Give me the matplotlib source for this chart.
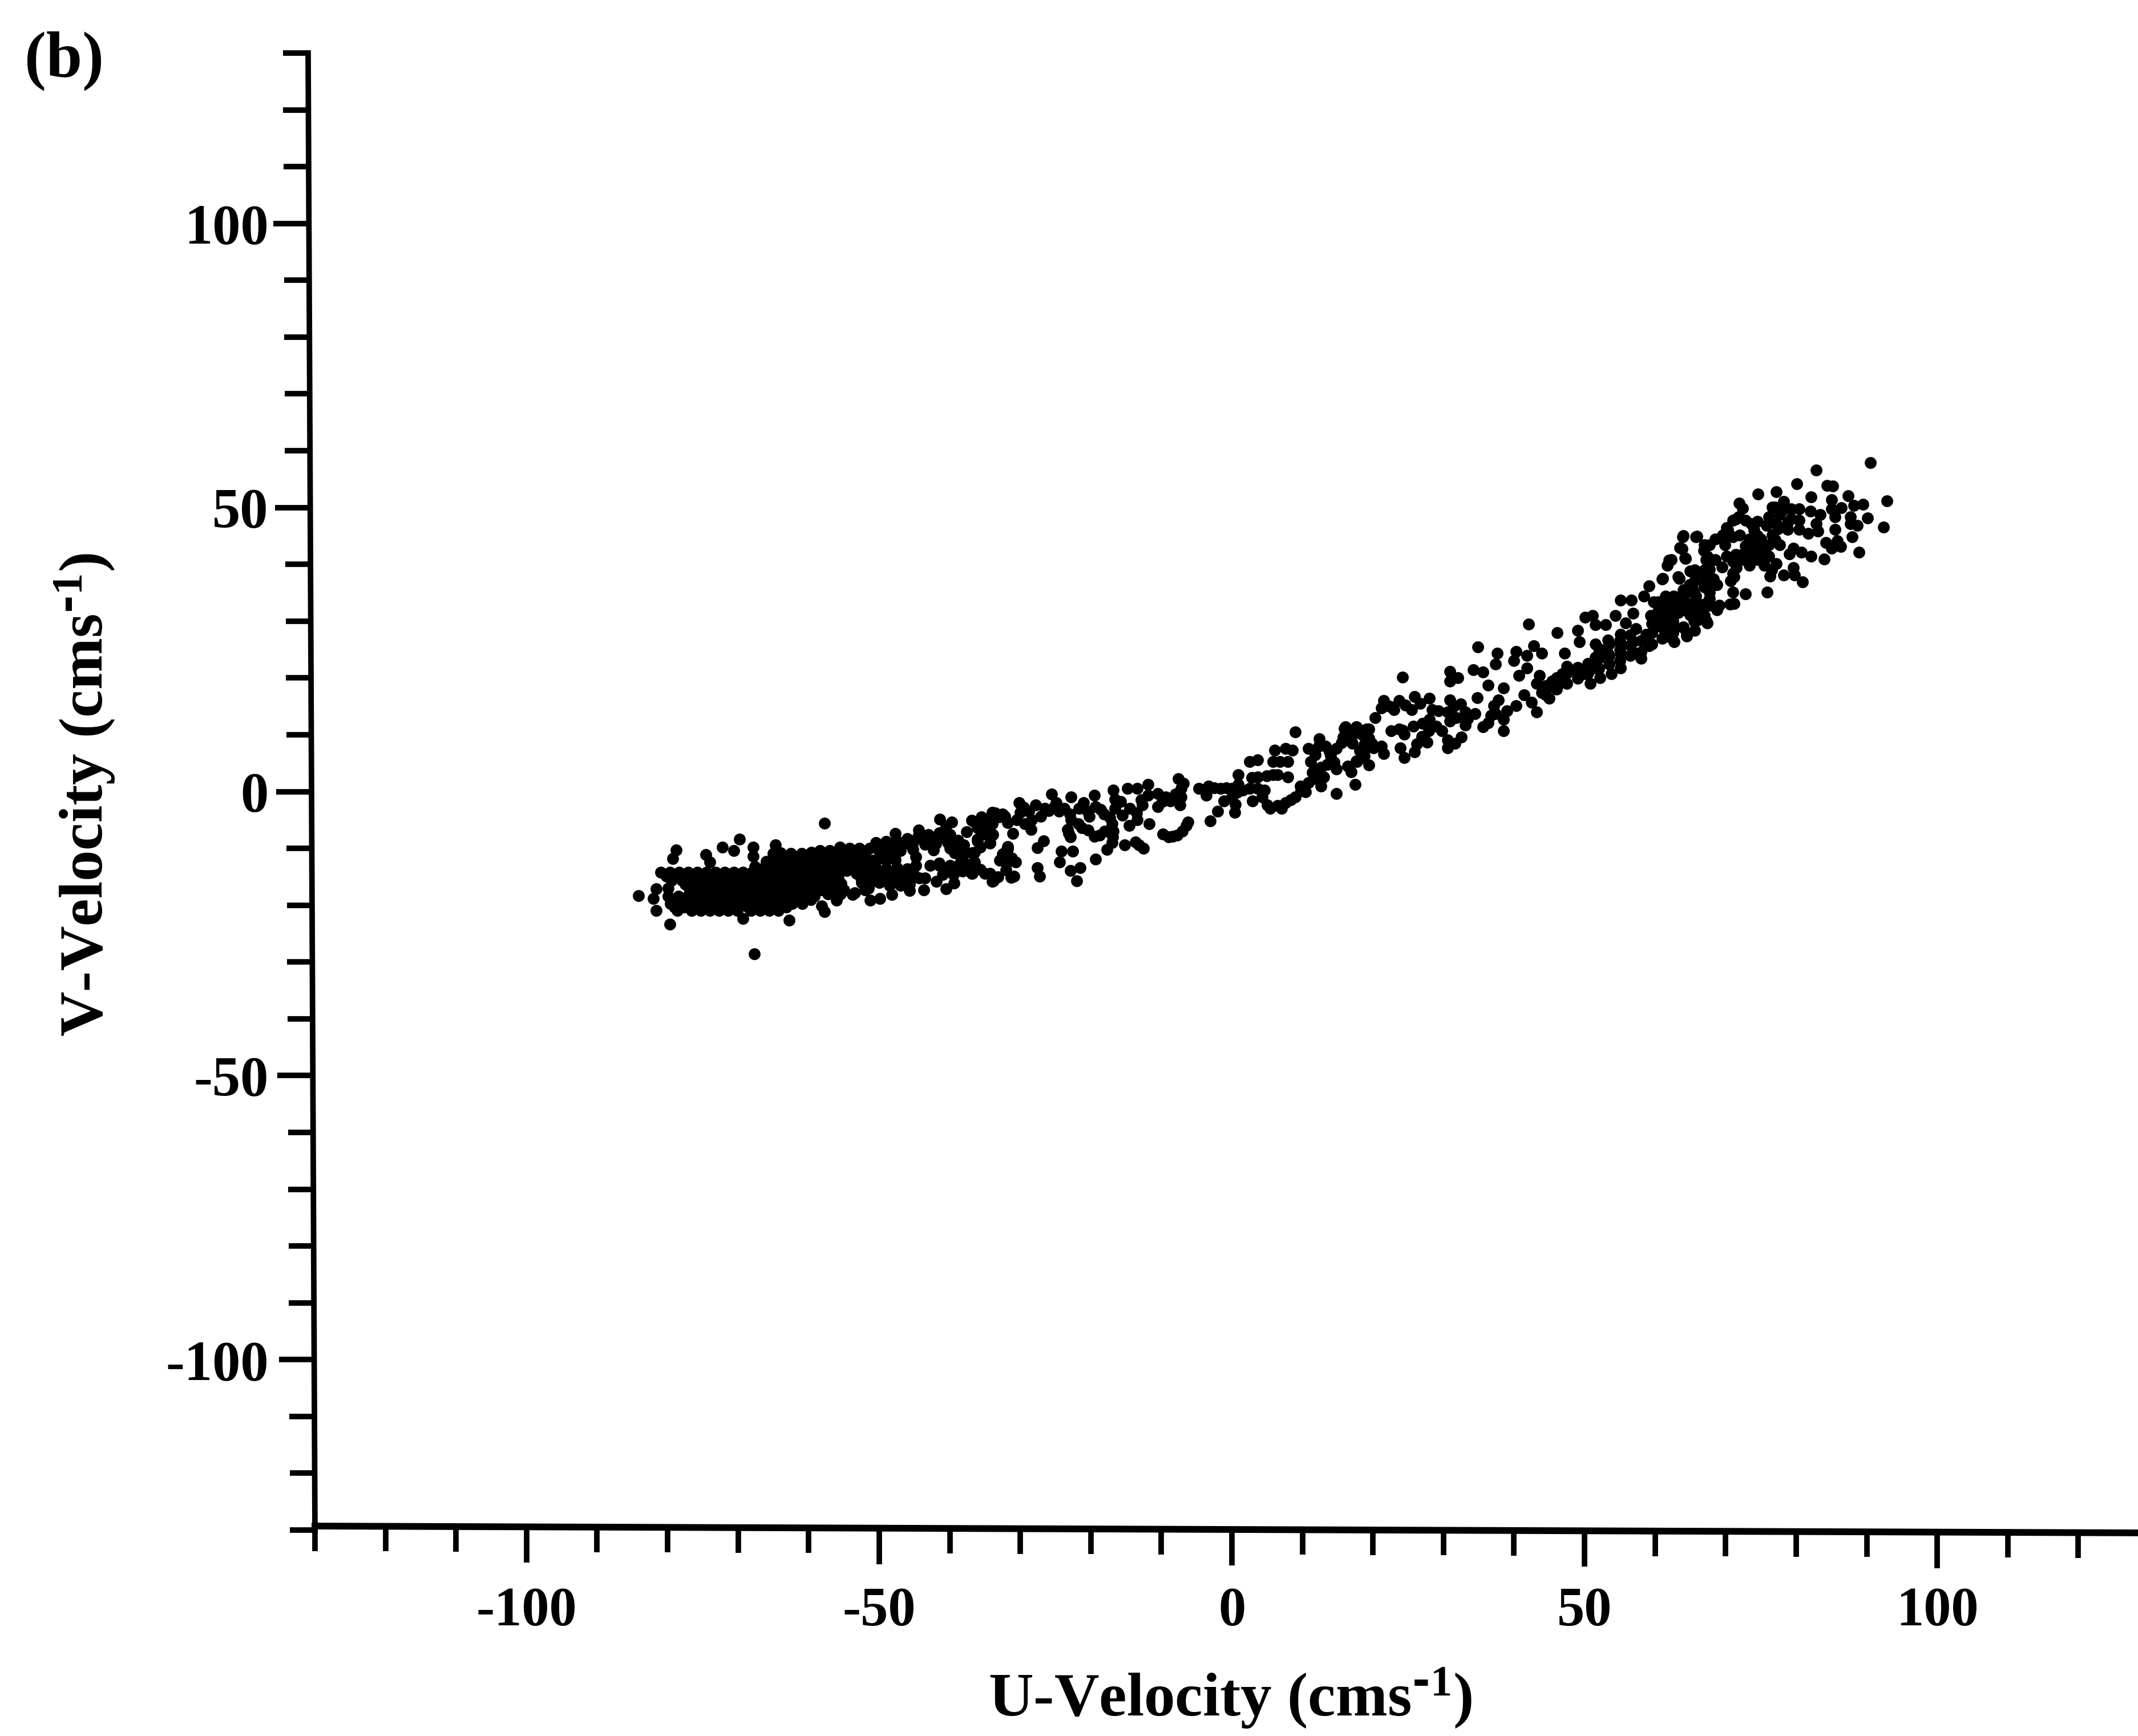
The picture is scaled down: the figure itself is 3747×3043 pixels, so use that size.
#!/usr/bin/env python
# U-V velocity scatter, panel (b)

import numpy as np
import matplotlib
matplotlib.use('Agg')
import matplotlib.pyplot as plt
from matplotlib.transforms import Affine2D
from matplotlib.ticker import FixedLocator

plt.rcParams['font.family'] = ['Liberation Serif', 'DejaVu Serif']
plt.rcParams['font.weight'] = 'bold'
plt.rcParams['mathtext.default'] = 'regular'

W, H = 3748, 3043
DPI = 100

x_major = [-100, -50, 0, 50, 100]
x_labels = ['-100', '-50', '0', '50', '100']
y_major = [-100, -50, 0, 50, 100]
y_labels = ['-100', '-50', '0', '50', '100']
minor_ticks = [-130, -120, -110, -90, -80, -70, -60, -40, -30, -20, -10,
               10, 20, 30, 40, 60, 70, 80, 90, 110, 120, 130]

# solid part of the cloud at the left, one list of u per v level
band_v = [-14.2, -15.6, -17.0, -18.4, -19.7, -20.9, -14.9, -16.3, -17.7, -19.0, -20.3]
band_u = [
    [-81.0, -79.7, -78.4, -77.1, -75.8, -74.5, -73.2, -71.9, -70.6, -69.3, -68.0, -66.7, -65.4, -64.0, -62.7, -61.3, -60.0, -58.7],
    [-79.4, -78.0, -76.9, -75.6, -74.3, -73.0, -71.7, -70.4, -69.1, -67.8, -66.5, -65.2, -63.9, -62.6, -61.3, -60.0, -58.7],
    [-79.9, -76.9, -75.6, -74.3, -73.0, -71.7, -70.4, -69.1, -67.8, -66.5, -65.2, -63.9, -62.6, -61.3, -60.0, -58.7],
    [-79.9, -78.5, -77.2, -75.9, -74.6, -73.3, -72.0, -70.7, -69.4, -68.1, -66.8, -65.5, -64.2, -62.9, -61.6, -60.3, -59.2],
    [-79.6, -78.3, -77.0, -75.7, -74.4, -73.1, -71.8, -70.5, -69.2, -67.9, -66.6, -65.3, -64.0, -62.4, -60.9],
    [-78.6, -76.6, -75.3, -74.0, -72.7, -71.4, -70.1, -68.2, -66.9, -65.6, -64.3],
    [-80.2, -78.9, -77.6, -76.3, -75.0, -73.7, -72.4, -71.1, -69.8, -68.5, -67.2, -65.9, -64.6, -63.3, -62.0, -60.7, -59.4, -58.0],
    [-77.5, -76.2, -74.9, -73.6, -72.3, -71.0, -69.7, -68.4, -67.1, -65.8, -64.5, -63.2, -61.9, -60.6, -59.3, -58.0],
    [-76.2, -74.9, -73.6, -72.3, -71.0, -69.7, -68.4, -67.1, -65.8, -64.5, -63.2, -61.9, -60.6, -59.3],
    [-79.2, -77.8, -76.5, -75.2, -73.9, -72.6, -71.3, -70.0, -68.7, -67.4, -66.1, -64.8, -63.5, -62.2, -60.9, -59.7],
    [-79.0, -77.7, -76.4, -75.1, -73.8, -72.5, -71.2, -69.9, -68.6, -67.3, -66.0, -64.7, -63.2],
]

# top of the solid part and the loose band up to u = -31
left_band = [
    (-65.0, -10.9), (-64.0, -10.8), (-62.5, -10.9), (-61.0, -10.9), (-59.6, -10.7), (-58.4, -10.4),
    (-66.0, -12.3), (-64.6, -12.3), (-63.2, -12.3), (-61.8, -12.3), (-60.4, -12.3), (-59.0, -12.3),
    (-67.6, -13.2), (-66.2, -13.2), (-64.8, -13.6), (-63.4, -13.8), (-62.0, -13.8), (-60.6, -13.8), (-59.2, -13.8),
    (-57.0, -10.4), (-55.6, -9.8), (-54.2, -10.0), (-52.8, -10.0), (-51.4, -10.0),
    (-57.8, -11.4), (-56.4, -11.4), (-55.0, -11.4), (-53.6, -11.4), (-52.2, -11.4),
    (-57.5, -12.9), (-56.0, -12.9), (-54.6, -12.9), (-53.2, -12.9), (-51.8, -12.9),
    (-57.5, -14.4), (-56.0, -14.4), (-54.6, -13.9), (-53.2, -14.4), (-51.8, -14.4),
    (-58.0, -16.0), (-56.5, -16.0), (-55.4, -16.2), (-52.5, -16.0), (-51.2, -16.0),
    (-58.3, -17.3), (-56.8, -17.3), (-55.0, -17.3), (-53.5, -17.8), (-52.0, -17.3),
    (-50.5, -9.0), (-49.0, -8.8), (-47.6, -8.6), (-46.0, -8.3), (-44.5, -7.9), (-43.0, -7.6), (-41.5, -7.3), (-40.0, -7.6),
    (-50.0, -10.5), (-48.5, -10.3), (-47.0, -10.4), (-45.2, -10.2), (-43.5, -9.3), (-42.0, -9.2), (-40.3, -9.0), (-38.8, -8.6),
    (-50.3, -12.0), (-49.0, -12.0), (-47.7, -12.0), (-44.8, -11.5), (-39.3, -10.8), (-38.0, -11.0),
    (-50.5, -13.5), (-49.0, -13.5), (-47.5, -13.4), (-46.0, -13.6), (-44.8, -13.0), (-42.8, -13.0), (-41.5, -13.0), (-40.0, -13.0), (-38.5, -12.5),
    (-50.5, -15.0), (-49.0, -15.0), (-47.0, -15.0), (-45.0, -15.0), (-43.5, -15.2), (-41.0, -14.6), (-39.5, -14.6), (-38.2, -14.0),
    (-51.5, -17.0), (-48.5, -16.5), (-47.0, -16.5), (-45.7, -16.3),
    (-51.3, -19.1), (-49.9, -18.8), (-48.2, -18.1), (-45.7, -17.4), (-40.5, -17.1), (-41.9, -15.8), (-39.4, -16.1),
    (-34.0, -15.8), (-34.3, -14.4), (-36.9, -14.4), (-32.0, -13.8), (-31.3, -15.1), (-32.9, -12.1), (-31.8, -10.1),
    (-34.3, -9.1), (-36.1, -8.4), (-37.6, -7.1), (-34.3, -6.1), (-38.0, -9.4), (-36.9, -10.8),
    (-47.7, -7.4), (-44.4, -6.8), (-41.4, -4.9), (-40.5, -6.1), (-39.7, -5.4), (-36.9, -5.1), (-33.6, -3.8), (-32.2, -4.4), (-34.7, -4.8),
]

# more dots inside the same stretch, where the reference closes up
left_fill = [
    (-64.3, -11.6), (-62.9, -11.6), (-61.5, -11.6), (-60.1, -11.6), (-58.7, -11.6), (-65.3, -13.0), (-63.9, -13.0), (-62.5, -13.0),
    (-61.1, -13.0), (-59.7, -13.0), (-58.3, -13.0), (-56.7, -10.7), (-55.0, -10.6), (-53.5, -10.7), (-52.0, -10.7), (-57.0, -12.1),
    (-55.5, -12.1), (-54.0, -12.1), (-52.5, -12.1), (-51.0, -12.1), (-56.8, -13.6), (-55.3, -13.6), (-53.9, -13.6), (-52.5, -13.6),
    (-51.0, -13.6), (-57.2, -15.2), (-55.8, -15.2), (-52.6, -15.2), (-51.4, -15.2), (-57.5, -16.7), (-56.0, -16.7), (-52.0, -16.7),
    (-57.3, -18.0), (-55.5, -18.0), (-49.8, -9.8), (-48.2, -9.5), (-46.7, -9.4), (-45.2, -9.0), (-43.7, -8.5), (-42.2, -8.2),
    (-40.7, -8.2), (-49.7, -11.2), (-48.2, -11.1), (-42.3, -10.3), (-40.0, -10.0), (-38.6, -9.8), (-41.5, -12.6), (-49.8, -14.2),
    (-48.2, -14.2), (-46.7, -14.2), (-45.2, -14.2), (-40.7, -13.8), (-39.2, -13.8), (-37.5, -12.8), (-38.0, -13.3), (-52.0, -15.2),
    (-50.0, -16.0), (-48.0, -15.7), (-46.2, -15.7), (-44.3, -15.2),
]

# loose dots round the solid part
left_strays = [
    (-84.1, -18.3), (-81.6, -17.1), (-82.0, -18.8), (-81.6, -20.9), (-79.7, -23.3), (-78.8, -10.3), (-79.3, -11.8),
    (-74.6, -11.1), (-74.0, -12.4), (-72.2, -9.8), (-69.8, -8.4), (-70.6, -10.4), (-67.9, -9.8), (-67.9, -11.4),
    (-64.7, -9.4), (-64.3, -11.1), (-57.8, -5.6), (-67.7, -28.6), (-69.3, -22.3), (-62.8, -22.6), (-57.8, -21.1),
    (-58.2, -20.1), (-56.1, -19.1), (-43.7, -17.3), (-53.8, -18.1),
]

# middle stretch, u from -37 to 19
mid_upper = [
    (-36.5, -5.4), (-35.4, -5.7), (-34.0, -3.7), (-32.5, -4.0), (-34.0, -5.7), (-36.1, -6.4), (-31.1, -7.4), (-30.2, -2.0),
    (-30.0, -3.7), (-29.4, -5.7), (-27.8, -2.4), (-27.1, -4.4), (-28.5, -6.7), (-25.6, -0.5), (-24.9, -2.0), (-23.8, -3.0),
    (-26.0, -3.4), (-22.8, -1.0), (-21.7, -3.0), (-20.2, -4.4), (-19.5, -0.7), (-19.3, -2.7), (-18.1, -4.0), (-16.8, 0.3),
    (-16.6, -1.4), (-16.6, -3.0), (-14.8, 0.6), (-13.4, 0.6), (-11.9, 1.3), (-14.5, -3.0), (-12.7, -2.4), (-11.9, -0.7),
    (-10.5, -0.4), (-9.4, -1.0), (-10.5, -2.7), (-7.6, 2.3), (-7.2, 0.6), (-7.2, -1.0), (-7.4, -2.4), (-8.7, -1.7),
    (-4.7, 0.6), (-3.3, 1.0), (-3.6, -0.7), (-1.6, 0.6), (0.0, 0.6), (0.9, 3.0), (0.9, 1.3), (0.0, -1.0), (-1.1, -1.7),
    (0.4, -3.7), (-2.0, -3.5), (2.5, 0.6), (3.6, 2.6), (3.6, 0.6), (2.9, -1.7), (4.3, -1.0), (5.0, -2.4), (5.8, 3.0),
    (5.4, -3.0), (7.9, 2.6), (7.6, -2.0), (9.0, -1.0), (9.7, 1.0), (10.8, 1.6), (10.4, 0.0), (11.9, 2.3), (12.6, 1.0),
    (12.6, 4.3), (13.0, 2.6), (11.2, 5.3), (12.4, 9.3), (13.3, 8.0), (14.8, 7.6), (15.5, 8.6), (14.0, 6.3), (14.8, 4.0),
    (16.9, 3.5), (17.5, 1.3), (14.8, -0.4), (9.0, 10.5), (10.8, 7.6), (15.9, 11.1), (17.7, 11.3), (19.1, 11.0), (17.1, 8.5),
    (18.8, 8.3), (18.8, 6.3), (17.7, 5.3), (6.1, 7.3), (7.6, 7.6), (8.6, 7.3), (6.8, 5.3), (5.8, 5.3), (7.9, 5.3), (2.5, 5.3), (3.6, 5.6),
]
mid_lower = [
    (-36.1, -8.7), (-34.3, -9.0), (-36.5, -10.7), (-31.8, -9.7), (-32.5, -11.0), (-31.8, -12.4), (-30.7, -12.4), (-30.9, -14.9),
    (-35.0, -14.4), (-33.8, -15.7), (-36.8, -14.4), (-36.5, -12.4), (-26.7, -8.7), (-27.6, -9.9), (-27.6, -13.4), (-27.3, -14.9),
    (-24.2, -10.5), (-24.4, -12.4), (-22.6, -10.5), (-22.9, -13.9), (-21.5, -13.4), (-22.0, -15.7), (-19.3, -11.9), (-22.9, -8.0),
    (-23.3, -6.7), (-19.5, -7.9), (-18.8, -7.7), (-21.3, -6.4), (-22.8, -5.0), (-17.0, -9.0), (-17.7, -10.2), (-15.2, -9.4),
    (-13.7, -8.9), (-12.5, -10.0), (-16.8, -7.0), (-17.0, -5.7), (-14.6, -6.0), (-11.7, -5.7), (-13.4, -5.0), (-9.8, -7.5),
    (-9.0, -8.0), (-7.8, -7.7), (-6.5, -6.0), (-6.2, -5.4), (-3.1, -5.2),
]

# dots joining the blobs of the middle stretch and the start of the right one
mid_fill = [
    (-35.5, -4.5), (-33.0, -4.5), (-31.8, -5.5), (-30.5, -5.0), (-29.5, -2.8), (-28.8, -3.5), (-28.4, -5.0), (-26.5, -3.0),
    (-25.2, -2.8), (-24.5, -3.5), (-23.0, -4.0), (-21.0, -2.0), (-20.5, -3.5), (-18.6, -3.2), (-17.3, -4.6), (-15.8, -1.8),
    (-15.5, -4.2), (-13.5, -3.8), (-12.9, -1.5), (-9.9, -1.8), (-8.0, -0.5), (-6.9, 1.5), (-3.9, 0.4), (-2.5, 0.7), (-0.8, 0.7),
    (0.7, -0.2), (1.5, 0.3), (0.5, -2.3), (2.8, 2.5), (4.9, 2.8), (4.6, 0.3), (6.5, 3.0), (7.0, -3.0), (6.5, -2.5), (8.3, -1.5),
    (9.8, 0.2), (11.4, 3.4), (12.0, 3.7), (13.5, 4.8), (11.8, 6.5), (12.3, 8.0), (13.8, 7.0), (14.5, 5.2), (15.8, 9.6), (16.4, 4.5),
    (18.1, 7.2), (18.0, 10.3), (18.8, 9.8), (-35.2, -7.5), (-33.9, -7.6), (-35.7, -9.8), (-32.0, -10.5), (-31.2, -11.7),
    (-33.2, -15.0), (-35.7, -13.7), (-21.8, -5.7), (-20.4, -6.8), (-23.1, -7.4), (-18.0, -7.0), (-16.9, -8.0), (-13.2, -9.4),
    (-8.4, -7.9), (-7.0, -7.0), (22.3, 15.0), (24.6, 15.2), (26.7, 15.5), (29.3, 14.2), (27.0, 12.0), (29.0, 11.5), (31.5, 15.0),
    (31.8, 13.0), (24.2, 10.8), (33.4, 12.8), (31.6, 8.5), (26.9, 9.7), (16.9, 10.2), (18.5, 10.0), (19.8, 8.5), (18.7, 7.0), (39.0, 14.2),
]

# right stretch, u from 16 to 72
right_band = [
    (24.2, 20.1), (34.9, 25.5), (42.1, 29.5), (46.1, 28.0), (30.9, 21.1), (30.9, 19.4), (32.0, 20.0), (34.2, 21.4), (35.6, 21.0),
    (37.6, 24.4), (37.4, 22.4), (36.3, 18.7), (38.5, 18.2), (34.8, 16.5), (21.5, 16.0), (21.2, 14.7), (23.7, 16.0), (23.0, 14.4),
    (25.9, 16.7), (25.5, 14.4), (28.0, 16.4), (28.4, 14.4), (20.3, 13.0), (30.9, 16.1), (32.4, 15.4), (30.6, 14.0), (33.1, 14.0),
    (34.5, 13.7), (33.1, 11.7), (28.0, 12.7), (30.9, 12.4), (29.8, 10.7), (27.9, 10.7), (23.7, 11.0), (25.7, 11.5), (22.6, 10.7),
    (24.4, 10.1), (26.2, 8.4), (27.7, 8.7), (25.9, 7.0), (30.6, 9.1), (30.6, 7.7), (32.5, 9.6), (23.9, 7.7), (24.4, 6.0),
    (16.1, 11.4), (17.6, 11.4), (19.4, 11.0), (19.4, 9.4), (20.1, 7.7), (21.2, 8.0), (21.5, 6.7), (18.6, 6.0), (19.4, 4.7),
    (17.6, 5.4), (17.0, 8.7), (37.1, 15.1), (37.8, 16.1), (36.7, 13.4), (36.3, 12.1), (38.5, 12.7), (38.5, 10.7), (35.6, 11.4),
    (37.4, 13.7), (40.3, 15.1), (41.4, 17.0), (42.5, 15.7), (43.2, 14.0), (43.9, 17.4), (45.0, 16.4), (44.6, 18.0), (43.2, 19.0),
    (40.7, 20.4), (40.0, 23.0), (40.3, 24.7), (41.8, 24.0), (41.8, 21.7), (42.8, 25.7), (43.9, 24.4), (43.6, 20.4), (45.4, 19.4),
    (46.8, 20.7), (47.2, 24.4), (46.4, 19.0), (48.6, 21.4), (50.1, 20.7), (50.8, 19.0), (51.5, 21.7), (52.2, 20.0), (49.0, 28.4),
    (50.1, 30.7), (51.1, 31.0), (51.5, 29.4), (53.0, 29.4), (54.4, 31.0), (55.8, 29.7), (55.1, 27.7), (56.9, 31.4), (57.3, 28.7),
    (49.3, 26.4), (51.5, 26.0), (53.3, 26.7), (51.5, 23.7), (53.3, 24.4), (55.1, 26.0), (55.1, 24.4), (56.9, 26.4), (57.3, 24.4),
    (58.7, 27.7), (59.1, 25.7), (58.0, 23.4), (55.1, 21.7), (53.8, 20.7), (55.1, 33.7), (56.6, 33.7), (58.4, 34.4), (59.1, 36.2),
    (61.1, 37.5), (62.0, 40.7), (64.3, 41.0), (63.4, 37.5), (64.0, 45.0), (63.8, 42.7), (65.9, 44.9), (59.8, 33.4), (59.4, 31.0),
    (60.9, 30.4), (62.3, 34.0), (62.3, 32.0), (60.9, 32.7), (64.1, 34.4), (62.0, 28.4), (62.7, 26.4), (64.5, 27.4), (64.9, 33.0),
    (65.9, 31.7), (65.6, 28.4), (67.4, 29.7), (68.8, 32.0), (70.6, 33.0), (67.7, 34.0), (65.6, 39.0), (66.7, 38.7), (64.9, 36.4),
    (67.4, 37.7), (67.4, 41.4), (67.0, 43.4), (68.5, 44.4), (69.9, 44.7), (70.3, 46.0), (71.4, 48.0), (67.7, 35.7), (71.0, 38.4),
    (68.8, 36.4), (71.4, 41.7),
]

# the closed diagonal part of the right stretch
right_fill = [
    (44.5, 17.0), (44.5, 18.6), (46.0, 18.0), (46.0, 20.0), (47.5, 19.0), (47.5, 20.8), (47.5, 22.0), (49.0, 19.9), (49.0, 21.8),
    (50.5, 20.8), (50.5, 22.5), (52.0, 21.6), (52.0, 23.4), (52.0, 25.2), (53.5, 22.4), (53.5, 24.0), (53.5, 26.0), (55.0, 23.0),
    (55.0, 25.0), (55.0, 26.6), (56.5, 24.0), (56.5, 25.8), (56.5, 27.6), (58.0, 24.6), (58.0, 26.6), (59.5, 26.0), (59.5, 28.0),
    (59.5, 29.6), (61.0, 27.0), (61.0, 29.0), (61.0, 31.2), (62.5, 28.0), (62.5, 30.0), (62.5, 33.0), (64.0, 29.0), (64.0, 32.0),
    (64.0, 33.0), (64.0, 35.5), (65.5, 30.0), (65.5, 32.0), (65.5, 35.0), (67.0, 31.0), (67.0, 33.0), (67.0, 36.0), (67.0, 39.0),
    (61.3, 32.5), (63.3, 33.1), (61.4, 30.2), (64.0, 28.9), (61.4, 28.2), (66.0, 30.2), (66.0, 33.1), (63.3, 31.5),
    (74.0, 46.0), (74.5, 45.0), (75.5, 42.8), (77.0, 44.3), (74.0, 43.3), (75.3, 41.0), (76.5, 39.0), (77.0, 50.1), (78.0, 49.5),
    (78.8, 47.4), (77.4, 46.2), (72.8, 43.2), (73.6, 41.2), (72.0, 41.6), (71.0, 40.5), (69.5, 39.5),
]

# top end of the cloud
top_end = [
    (90.5, 57.9), (82.8, 56.6), (80.1, 54.2), (74.6, 52.4), (77.2, 52.8), (82.1, 51.9), (84.4, 53.9), (85.2, 53.8), (87.4, 52.1),
    (92.9, 51.2), (90.1, 48.2), (92.4, 46.5), (88.9, 42.1), (84.0, 40.9), (82.1, 41.4), (87.9, 44.8), (86.4, 50.0), (71.9, 50.8),
    (72.4, 49.9), (74.5, 47.6), (63.9, 44.8), (65.8, 44.8), (63.5, 42.9), (64.2, 41.1), (62.3, 40.8), (61.7, 39.8), (61.0, 37.4),
    (63.3, 37.8), (72.8, 34.8), (75.9, 35.1), (76.3, 37.9), (80.9, 36.9), (79.6, 39.4), (79.8, 38.1), (78.2, 38.1), (78.2, 51.1),
    (76.6, 50.1), (79.3, 49.8), (80.4, 49.8), (76.1, 48.4), (77.7, 48.8), (79.3, 48.1), (80.4, 47.8), (82.0, 49.4), (83.4, 48.8),
    (85.0, 51.4), (85.0, 49.8), (85.5, 48.4), (82.8, 47.1), (83.1, 45.8), (81.7, 45.4), (85.5, 46.1), (85.8, 44.1), (84.2, 43.8),
    (86.3, 43.1), (85.0, 42.8), (88.2, 50.4), (89.5, 50.6), (87.7, 48.4), (87.7, 47.1), (88.7, 46.8), (75.8, 46.8), (77.2, 47.1),
    (78.8, 46.1), (80.4, 46.1), (76.6, 45.1), (75.0, 44.4), (73.4, 44.4), (76.1, 43.4), (74.5, 42.4), (73.1, 42.4), (76.1, 41.4),
    (74.5, 40.8), (72.6, 40.8), (77.7, 43.4), (79.6, 42.8), (80.7, 42.1), (79.0, 41.8), (77.2, 40.1), (75.5, 39.8), (73.4, 39.8),
    (71.5, 39.4), (71.2, 37.8), (71.8, 48.4), (71.0, 47.8), (70.1, 46.4), (72.8, 47.8), (73.6, 47.1), (69.6, 45.1), (71.0, 44.8),
    (69.9, 43.4), (70.1, 41.4), (67.7, 43.4), (66.9, 42.4), (67.2, 40.8), (68.5, 40.8), (67.7, 39.1), (68.3, 37.4), (70.7, 37.1),
    (65.0, 38.8), (65.6, 37.1), (66.1, 38.4), (67.2, 37.1), (65.3, 35.8), (67.7, 35.1), (65.8, 34.4), (67.7, 32.8), (69.1, 32.8),
    (71.2, 33.1), (71.0, 35.1), (63.9, 34.8), (61.5, 34.4), (62.6, 34.4), (60.4, 33.4), (62.6, 32.4), (65.0, 32.4), (60.4, 31.8),
    (62.1, 31.1), (65.0, 31.1), (67.2, 30.1), (62.6, 29.1), (64.5, 27.8), (60.7, 29.1), (62.3, 27.1), (72.0, 45.1),
]

fig = plt.figure(figsize=(W / DPI, H / DPI), dpi=DPI)
left, right, top, bottom = 552, 3766, 93, 2682
ax = fig.add_axes([left / W, 1 - bottom / H, (right - left) / W, (bottom - top) / H])
ax.set_xlim(-130, 130)
ax.set_ylim(-130, 130)

MS = 15
for v, us in zip(band_v, band_u):
    ax.plot(us, [v] * len(us), 'o', color='k', ms=MS, mew=0, clip_on=False)
for group in (left_band, left_fill, left_strays, mid_upper, mid_lower, mid_fill, right_band, right_fill, top_end):
    pts = np.array(group)
    ax.plot(pts[:, 0], pts[:, 1], 'o', color='k', ms=MS, mew=0, clip_on=False)

ax.spines['top'].set_visible(False)
ax.spines['right'].set_visible(False)
ax.spines['left'].set_linewidth(7)
ax.spines['bottom'].set_linewidth(8.5)

ax.set_xticks(x_major)
ax.set_xticklabels(x_labels)
ax.set_yticks(y_major)
ax.set_yticklabels(y_labels)
ax.xaxis.set_minor_locator(FixedLocator(minor_ticks))
ax.yaxis.set_minor_locator(FixedLocator(minor_ticks))
ax.tick_params(axis='both', which='major', length=45, width=7)
ax.tick_params(axis='both', which='minor', length=32, width=7)
ax.tick_params(axis='x', which='major', pad=26, labelsize=69.5)
ax.tick_params(axis='y', which='major', pad=13.5, labelsize=71)

fig.text(148 / W, 1 - 1393 / H, r'V-Velocity (cms$^{\text{-}1}$)', rotation=90, fontsize=78.5,
         ha='center', va='center')
fig.text(2156 / W, 1 - 2976 / H, r'U-Velocity (cms$^{\text{-}1}$)', fontsize=78.5,
         ha='center', va='center')
fig.text(43 / W, 1 - 107 / H, '(b)', fontsize=82, ha='left', va='center')

# the scanned axes are not quite square: lean the y axis and tilt the x axis
y_ref = H - bottom
lean = Affine2D.from_values(1, 0, -12.0 / (bottom - top), 1, 12.0 * y_ref / (bottom - top), 0)
tilt = Affine2D.from_values(1, -12.0 / (right - left), 0, 1, 0, 12.0 * left / (right - left) + 7)

ax.spines['left'].set_transform(ax.spines['left'].get_transform() + lean)
ax.spines['bottom'].set_transform(ax.spines['bottom'].get_transform() + tilt)
for tick in ax.yaxis.get_major_ticks() + ax.yaxis.get_minor_ticks():
    tick.tick1line.set_transform(tick.tick1line.get_transform() + lean)
    # lowest y tick sits on the x axis line
    if tick.get_loc() == -130:
        tick.tick1line.set_transform(tick.tick1line.get_transform() + Affine2D().translate(0, 7))
for tick in ax.xaxis.get_major_ticks() + ax.xaxis.get_minor_ticks():
    tick.tick1line.set_transform(tick.tick1line.get_transform() + tilt)

fig.savefig('out.png', dpi=DPI)
